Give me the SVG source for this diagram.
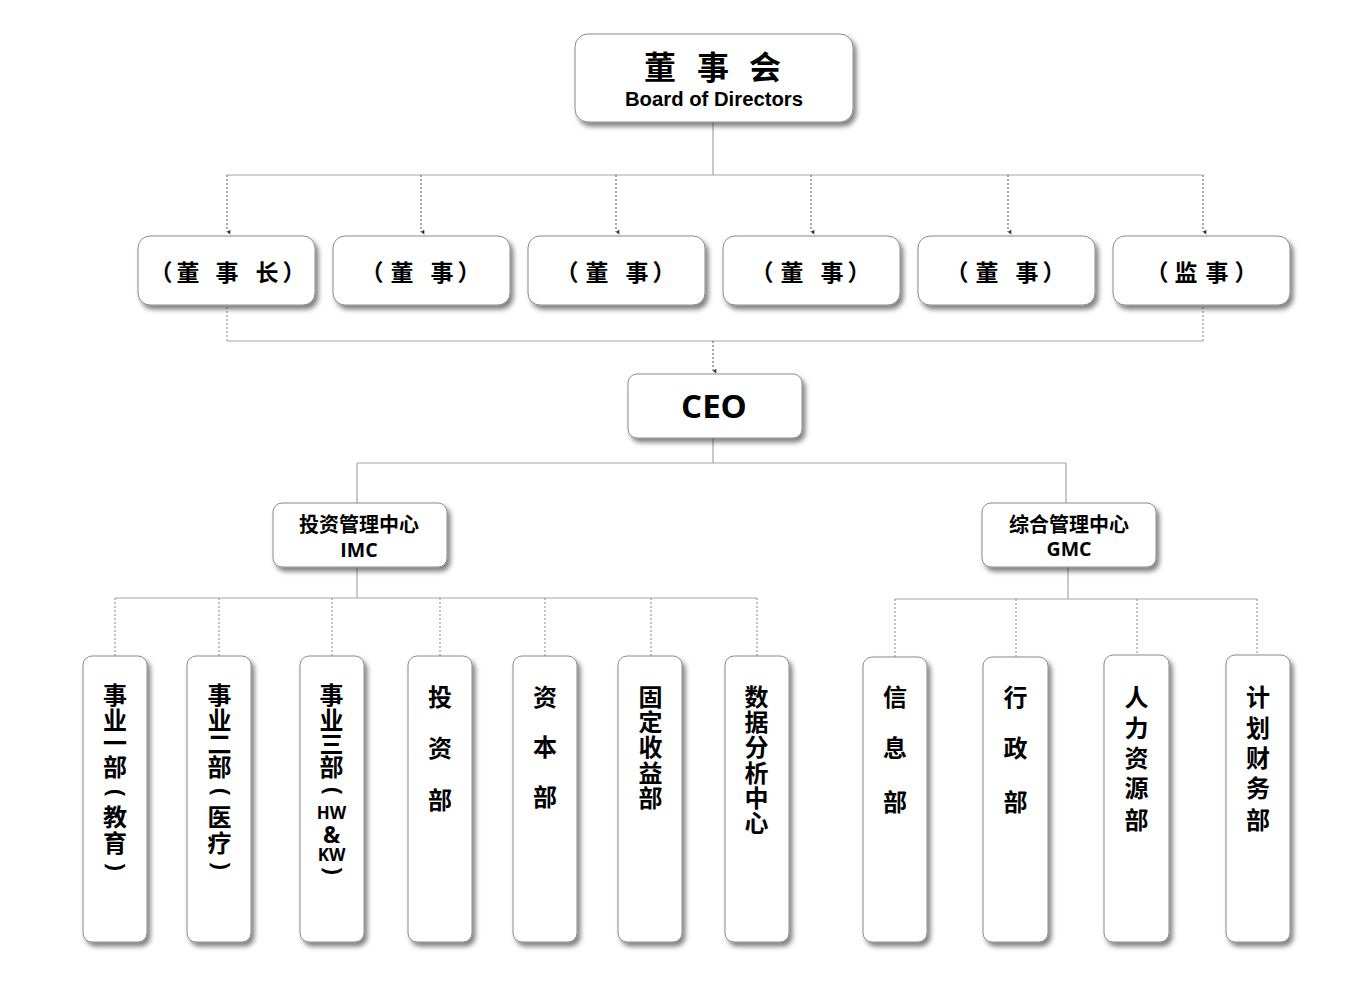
<svg xmlns="http://www.w3.org/2000/svg" width="1370" height="982" viewBox="0 0 1370 982">
<defs>
<filter id="sh" x="-20%" y="-20%" width="150%" height="150%">
<feDropShadow dx="3" dy="4" stdDeviation="2.5" flood-color="#000" flood-opacity="0.5"/>
</filter>
<marker id="ar" viewBox="0 0 6 6" refX="3" refY="5" markerWidth="5" markerHeight="5" orient="auto-start-reverse" markerUnits="userSpaceOnUse">
<path d="M0,1 L6,1 L3,5 z" fill="#333"/>
</marker>
</defs>
<style>
.box{fill:#fff;stroke:#8a8a8a;stroke-width:1;filter:url(#sh)}
.solid{stroke:#a6a6a6;stroke-width:1.2;fill:none}
.dot{stroke:#555;stroke-width:1;stroke-dasharray:2 2;fill:none}
.dotl{stroke:#888;stroke-width:1;stroke-dasharray:2 2;fill:none}
.cj{font-family:"Noto Sans CJK SC","Noto Sans",sans-serif;font-weight:700;fill:#000;text-anchor:middle}
.en{font-family:"Open Sans","Liberation Sans",sans-serif;font-weight:700;fill:#000;text-anchor:middle}
.ar{font-family:"Liberation Sans",Arial,sans-serif;font-weight:700;fill:#000;text-anchor:middle}
.l2{font-size:23px}
.v{font-size:24px}
</style>
<rect width="1370" height="982" fill="#fff"/>

<g id="connectors">
<path class="solid" d="M713,122 V175 M227,175 H1203"/>
<path class="dot" marker-end="url(#ar)" d="M227,175 V232"/>
<path class="dot" marker-end="url(#ar)" d="M421,175 V232"/>
<path class="dot" marker-end="url(#ar)" d="M616,175 V232"/>
<path class="dot" marker-end="url(#ar)" d="M811,175 V232"/>
<path class="dot" marker-end="url(#ar)" d="M1008,175 V232"/>
<path class="dot" marker-end="url(#ar)" d="M1203,175 V232"/>
<path class="dotl" d="M227,307 V341 M1203,307 V341"/>
<path class="solid" d="M227,341 H1203"/>
<path class="dot" marker-end="url(#ar)" d="M713,341 V371"/>
<path class="solid" d="M713,438 V463 M357,463 H1066 M357,463 V503 M1066,463 V503"/>
<path class="solid" d="M357,567 V598 M115,598 H757 M1068,567 V599 M895,599 H1257"/>
<path class="dotl" d="M115,598 V656 M219,598 V656 M332,598 V656 M440,598 V656 M545,598 V656 M651,598 V656 M757,598 V656"/>
<path class="dotl" d="M895,599 V657 M1016,599 V657 M1137,599 V655 M1257,599 V655"/>
</g>

<g id="board">
<rect class="box" x="575" y="34" width="278" height="88" rx="13"/>
<text class="cj" y="79" font-size="32"><tspan x="660">董</tspan><tspan x="713">事</tspan><tspan x="765">会</tspan></text>
<text class="ar" x="714" y="106" font-size="20.3">Board of Directors</text>
</g>

<g id="chairman">
<rect class="box" x="138" y="236" width="177" height="69" rx="12"/>
<text class="cj l2" y="281"><tspan x="161">（</tspan><tspan x="188">董</tspan><tspan x="227">事</tspan><tspan x="267">长</tspan><tspan x="294">）</tspan></text>
</g>
<g id="director1">
<rect class="box" x="333" y="236" width="177" height="69" rx="12"/>
<text class="cj l2" y="281"><tspan x="372">（</tspan><tspan x="402">董</tspan><tspan x="442">事</tspan><tspan x="469">）</tspan></text>
</g>
<g id="director2">
<rect class="box" x="528" y="236" width="177" height="69" rx="12"/>
<text class="cj l2" y="281"><tspan x="567">（</tspan><tspan x="597">董</tspan><tspan x="637">事</tspan><tspan x="664">）</tspan></text>
</g>
<g id="director3">
<rect class="box" x="723" y="236" width="177" height="69" rx="12"/>
<text class="cj l2" y="281"><tspan x="762">（</tspan><tspan x="792">董</tspan><tspan x="832">事</tspan><tspan x="859">）</tspan></text>
</g>
<g id="director4">
<rect class="box" x="918" y="236" width="177" height="69" rx="12"/>
<text class="cj l2" y="281"><tspan x="957">（</tspan><tspan x="987">董</tspan><tspan x="1027">事</tspan><tspan x="1054">）</tspan></text>
</g>
<g id="supervisor">
<rect class="box" x="1113" y="236" width="177" height="69" rx="12"/>
<text class="cj l2" y="281"><tspan x="1157">（</tspan><tspan x="1186">监</tspan><tspan x="1217">事</tspan><tspan x="1246">）</tspan></text>
</g>

<g id="ceo">
<rect class="box" x="628" y="374" width="174" height="64" rx="9"/>
<text class="en" x="714" y="418" font-size="33">CEO</text>
</g>

<g id="imc">
<rect class="box" x="273" y="503" width="174" height="64" rx="9"/>
<text class="cj" x="359" y="532" font-size="20">投资管理中心</text>
<text class="en" x="359" y="557" font-size="19.5">IMC</text>
</g>
<g id="gmc">
<rect class="box" x="982" y="503" width="174" height="64" rx="9"/>
<text class="cj" x="1069" y="532" font-size="20">综合管理中心</text>
<text class="en" x="1069" y="556" font-size="19.5">GMC</text>
</g>

<g id="bu1">
<rect class="box" x="83" y="656" width="64" height="286" rx="9"/>
<text class="cj v"><tspan x="115" y="704">事</tspan><tspan x="115" y="729">业</tspan><tspan x="115" y="752">一</tspan><tspan x="115" y="776">部</tspan></text>
<text class="en" font-size="23" transform="translate(115,793) rotate(90)" x="0" y="7">(</text>
<text class="cj v"><tspan x="115" y="826">教</tspan><tspan x="115" y="852">育</tspan></text>
<text class="en" font-size="23" transform="translate(115,867) rotate(90)" x="0" y="7">)</text>
</g>
<g id="bu2">
<rect class="box" x="187" y="656" width="64" height="286" rx="9"/>
<text class="cj v"><tspan x="219.5" y="704">事</tspan><tspan x="219.5" y="729">业</tspan><tspan x="219.5" y="753">二</tspan><tspan x="219.5" y="776">部</tspan></text>
<text class="en" font-size="23" transform="translate(219.5,792) rotate(90)" x="0" y="7">(</text>
<text class="cj v"><tspan x="219.5" y="826">医</tspan><tspan x="219.5" y="852">疗</tspan></text>
<text class="en" font-size="23" transform="translate(219.5,866) rotate(90)" x="0" y="7">)</text>
</g>
<g id="bu3">
<rect class="box" x="300" y="656" width="64" height="286" rx="9"/>
<text class="cj v"><tspan x="331.5" y="704">事</tspan><tspan x="331.5" y="729">业</tspan><tspan x="331.5" y="753">三</tspan><tspan x="331.5" y="776">部</tspan></text>
<text class="en" font-size="23" transform="translate(331.5,791) rotate(90)" x="0" y="7">(</text>
<text class="en" x="331.5" y="819" font-size="17">HW</text>
<text class="en" x="331.5" y="843" font-size="23">&amp;</text>
<text class="en" x="331.5" y="861" font-size="17">KW</text>
<text class="en" font-size="23" transform="translate(331.5,871) rotate(90)" x="0" y="7">)</text>
</g>
<g id="invest">
<rect class="box" x="408" y="656" width="64" height="286" rx="9"/>
<text class="cj v"><tspan x="440" y="706">投</tspan><tspan x="440" y="757">资</tspan><tspan x="440" y="809">部</tspan></text>
</g>
<g id="capital">
<rect class="box" x="513" y="656" width="64" height="286" rx="9"/>
<text class="cj v"><tspan x="545" y="706">资</tspan><tspan x="545" y="756">本</tspan><tspan x="545" y="806">部</tspan></text>
</g>
<g id="fixed">
<rect class="box" x="618" y="656" width="64" height="286" rx="9"/>
<text class="cj v"><tspan x="650.5" y="706">固</tspan><tspan x="650.5" y="731">定</tspan><tspan x="650.5" y="756">收</tspan><tspan x="650.5" y="782">益</tspan><tspan x="650.5" y="807">部</tspan></text>
</g>
<g id="data">
<rect class="box" x="725" y="656" width="64" height="286" rx="9"/>
<text class="cj v"><tspan x="756.5" y="706">数</tspan><tspan x="756.5" y="731">据</tspan><tspan x="756.5" y="756">分</tspan><tspan x="756.5" y="782">析</tspan><tspan x="756.5" y="807">中</tspan><tspan x="756.5" y="832">心</tspan></text>
</g>
<g id="info">
<rect class="box" x="863" y="657" width="64" height="285" rx="9"/>
<text class="cj v"><tspan x="895" y="706">信</tspan><tspan x="895" y="757">息</tspan><tspan x="895" y="811">部</tspan></text>
</g>
<g id="admin">
<rect class="box" x="983" y="657" width="65" height="285" rx="9"/>
<text class="cj v"><tspan x="1015.5" y="706">行</tspan><tspan x="1015.5" y="757">政</tspan><tspan x="1015.5" y="811">部</tspan></text>
</g>
<g id="hr">
<rect class="box" x="1104" y="655" width="65" height="287" rx="9"/>
<text class="cj v"><tspan x="1136.5" y="706">人</tspan><tspan x="1136.5" y="737">力</tspan><tspan x="1136.5" y="767">资</tspan><tspan x="1136.5" y="797">源</tspan><tspan x="1136.5" y="829">部</tspan></text>
</g>
<g id="finance">
<rect class="box" x="1226" y="655" width="64" height="287" rx="9"/>
<text class="cj v"><tspan x="1258" y="706">计</tspan><tspan x="1258" y="737">划</tspan><tspan x="1258" y="767">财</tspan><tspan x="1258" y="797">务</tspan><tspan x="1258" y="829">部</tspan></text>
</g>
</svg>
